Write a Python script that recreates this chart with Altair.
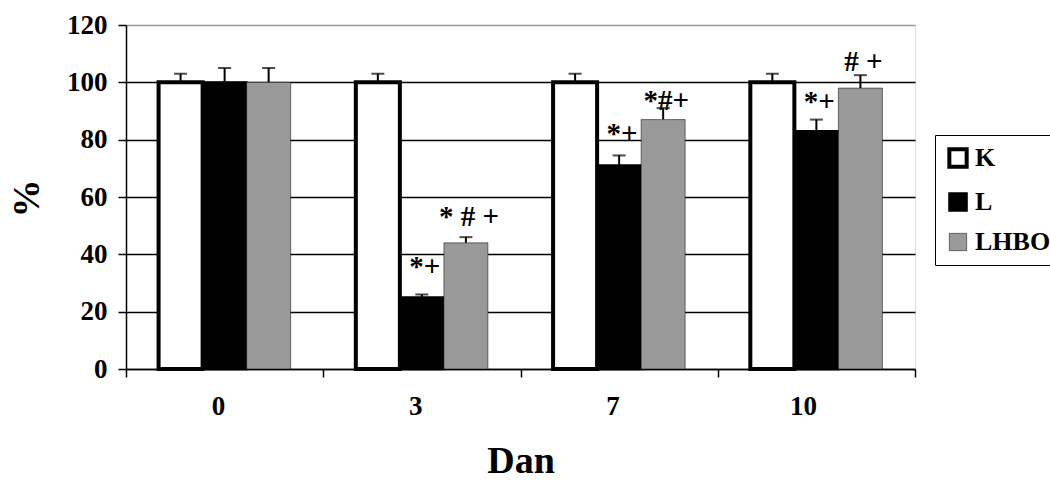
import altair as alt
import pandas as pd

days = ["0", "3", "7", "10"]
series = ["K", "L", "LHBO"]
k_vals = [100, 100, 100, 100]
k_err = [3, 3, 3, 3]
l_vals = [100, 25, 71, 83]
l_err = [5, 1, 3.5, 4]
lhbo_vals = [100, 44, 87, 98]
lhbo_err = [5, 2, 4, 4.5]

ann_day = ["3", "3", "7", "7", "10", "10"]
ann_series = ["L", "LHBO", "L", "LHBO", "L", "LHBO"]
ann_text = ["*+", "* # +", "*+", "*#+", "*+", "# +"]
ann_y = [35.5, 53, 82, 93.5, 93, 107]

rows = []
for s, vals, errs in [("K", k_vals, k_err), ("L", l_vals, l_err), ("LHBO", lhbo_vals, lhbo_err)]:
    for d, v, e in zip(days, vals, errs):
        rows.append({"day": d, "series": s, "value": v, "top": v + e})
df = pd.DataFrame(rows)
ann = pd.DataFrame({"day": ann_day, "series": ann_series, "text": ann_text, "y": ann_y})

FONT = "Liberation Serif"

x_enc = alt.X("day:N", sort=days, scale=alt.Scale(paddingInner=0, paddingOuter=0),
              axis=alt.Axis(title="Dan", labelAngle=0, tickBand="extent", tickSize=8,
                            tickColor="black", tickWidth=1.5, domainColor="black", domainWidth=1.5,
                            labelFont=FONT, labelFontSize=27, labelFontWeight="bold", labelColor="black",
                            labelPadding=29,
                            titleFont=FONT, titleFontSize=38, titleFontWeight="bold", titleColor="black",
                            titleY=92, titleBaseline="middle"))
xo_enc = alt.XOffset("series:N", sort=series, scale=alt.Scale(paddingInner=0, paddingOuter=0.74))
y_scale = alt.Scale(domain=[0, 120], nice=False)

bars = alt.Chart(df).mark_bar().encode(
    x=x_enc,
    xOffset=xo_enc,
    y=alt.Y("value:Q", scale=y_scale,
            axis=alt.Axis(title="%", values=[0, 20, 40, 60, 80, 100, 120], tickSize=8,
                          tickColor="black", tickWidth=1.5, domainColor="black", domainWidth=1.5,
                          grid=True,
                          gridColor={"condition": {"test": "datum.value === 120", "value": "#999999"}, "value": "black"},
                          gridWidth=1.5,
                          labelFont=FONT, labelFontSize=27, labelFontWeight="bold", labelColor="black",
                          labelPadding=11,
                          titleFont=FONT, titleFontSize=38, titleFontWeight="bold", titleColor="black",
                          titleX=-99, titleY=173, titleAngle=-90, titleBaseline="middle", titleAlign="center")),
    fill=alt.Fill("series:N", sort=series,
                  scale=alt.Scale(domain=series, range=["white", "black", "#999999"]),
                  legend=alt.Legend(title=None, orient="none", legendX=809, legendY=110,
                                    symbolType="square", symbolSize=300, symbolStrokeColor="black",
                                    labelFont=FONT, labelFontSize=26, labelFontWeight="bold",
                                    labelColor="black", labelOffset=4,
                                    strokeColor="black", fillColor="white", padding=10,
                                    rowPadding=13)),
    stroke=alt.Stroke("series:N", sort=series,
                      scale=alt.Scale(domain=series, range=["black", "black", "black"])),
    strokeWidth=alt.StrokeWidth("series:N", sort=series,
                                scale=alt.Scale(domain=series, range=[4, 0.5, 1.5])),
)

err_rule = alt.Chart(df).mark_rule(color="black", strokeWidth=2).encode(
    x=alt.X("day:N", sort=days), xOffset=xo_enc,
    y=alt.Y("value:Q", scale=y_scale), y2="top:Q",
)
err_cap = alt.Chart(df).mark_tick(color="black", size=13, thickness=2).encode(
    x=alt.X("day:N", sort=days), xOffset=xo_enc,
    y=alt.Y("top:Q", scale=y_scale),
)

labels = alt.Chart(ann).mark_text(font=FONT, fontSize=29, fontWeight="bold", color="black",
                                  baseline="middle", dx=3).encode(
    x=alt.X("day:N", sort=days), xOffset=alt.XOffset("series:N", sort=series,
                                                     scale=alt.Scale(domain=series, paddingInner=0, paddingOuter=0.74)),
    y=alt.Y("y:Q", scale=y_scale),
    text="text:N",
)

chart = alt.layer(err_rule, err_cap, bars, labels).properties(
    width=789, height=344,
    padding={"left": 126, "top": 25, "right": 135, "bottom": 115},
    autosize=alt.AutoSizeParams(type="none"),
).configure_view(stroke="#999999", strokeWidth=2).configure(background="white")

chart.save("out.html", embed_options={"renderer": "svg", "actions": False})
